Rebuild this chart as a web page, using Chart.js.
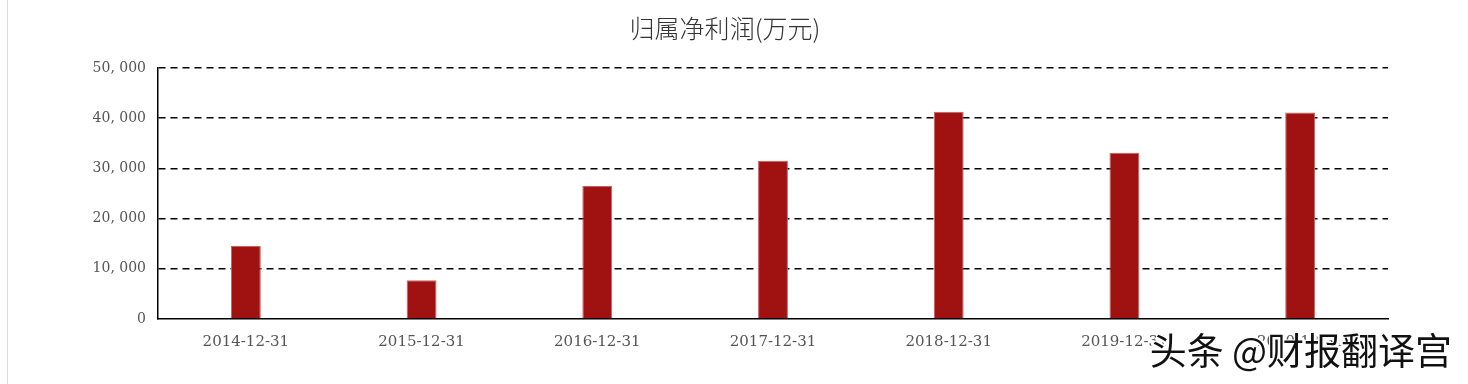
<!DOCTYPE html>
<html>
<head>
<meta charset="utf-8">
<script src="https://cdn.jsdelivr.net/npm/chart.js@4"></script>
<style>
  html, body { margin: 0; padding: 0; background: #fff; }
  #wrap { position: relative; width: 1468px; height: 384px; }
  #edge { position: absolute; left: 7px; top: 0; width: 1px; height: 384px; background: #dcdcdc; }
</style>
</head>
<body>
<div id="wrap">
  <div id="edge"></div>
  <canvas id="myChart" width="1468" height="384"></canvas>
</div>
<script>
// data
const periods = ["2014-12-31", "2015-12-31", "2016-12-31", "2017-12-31", "2018-12-31", "2019-12-31", "2020-12-31"];
const netProfit = [14530, 7700, 26500, 31530, 41270, 33140, 41150];
const titleText = "归属净利润(万元)";
const watermark = "头条 @财报翻译宫";

// watermark drawn on top
const watermarkPlugin = {
  id: "watermark",
  afterDraw(chart) {
    const ctx = chart.ctx;
    ctx.save();
    ctx.font = "37px 'Noto Sans CJK SC'";
    ctx.textAlign = "right";
    ctx.textBaseline = "middle";
    ctx.lineWidth = 4;
    ctx.strokeStyle = "#fff";
    ctx.strokeText(watermark, 1453, 352);
    ctx.fillStyle = "#111";
    ctx.fillText(watermark, 1452, 351);
    ctx.restore();
  },
};

let config = {
  type: "bar",
  data: {
    labels: periods,
    datasets: [
      {
        label: titleText,
        data: netProfit,
        backgroundColor: "#a01212",
        borderColor: "#c86060",
        borderWidth: 1,
        barPercentage: 0.17,
        categoryPercentage: 1,
      },
    ],
  },
  options: {
    responsive: false,
    animation: false,
    layout: {
      padding: { left: 62, right: 80, top: 0, bottom: 19 },
    },
    plugins: {
      legend: { display: false },
      tooltip: { enabled: false },
      title: {
        display: true,
        text: titleText,
        color: "#333",
        font: { family: "'Noto Sans CJK SC'", size: 25, weight: 300 },
        padding: { top: 13, bottom: 25 },
      },
    },
    scales: {
      x: {
        grid: { display: false, drawTicks: false },
        border: { display: true, color: "#000", width: 1.5 },
        ticks: {
          color: "#555",
          padding: 14,
          maxRotation: 0,
          font: { family: "'DejaVu Serif'", size: 15 },
        },
      },
      y: {
        min: 0,
        max: 50000,
        afterFit: (s) => { s.width = 96; },
        grid: {
          color: (c) => (c.tick.value === 0 ? "rgba(0,0,0,0)" : "#000"),
          lineWidth: 1.5,
          drawTicks: false,
        },
        border: { display: true, color: "#000", width: 1.5, dash: [7, 5] },
        ticks: {
          stepSize: 10000,
          color: "#555",
          padding: 12,
          font: { family: "'DejaVu Serif'", size: 14 },
          callback: (v) => v.toLocaleString("en-US").replace(",", ", "),
        },
      },
    },
  },
  plugins: [watermarkPlugin],
};

var myChart = new Chart(document.getElementById("myChart"), config);
</script>
</body>
</html>
